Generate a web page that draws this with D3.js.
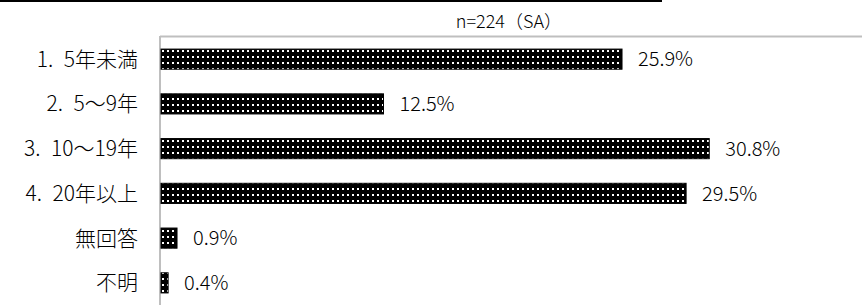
<!DOCTYPE html>
<html>
<head>
<meta charset="utf-8">
<script src="https://cdn.jsdelivr.net/npm/d3@7"></script>
<style>
  body { margin: 0; background: #fff; }
  text { font-family: "Noto Sans CJK JP", "Noto Sans", sans-serif; font-weight: 300; }
</style>
</head>
<body>
<svg id="chart" width="862" height="305"></svg>
<script>
// chart data
const categories = ['1.\u20025年未満', '2.\u20025〜9年', '3.\u200210〜19年', '4.\u200220年以上', '無回答', '不明'];
const values = [25.9, 12.5, 30.8, 29.5, 0.9, 0.4];
const noteLabel = 'n=224（SA）';

const svg = d3.select('#chart');
const width = 862, height = 305;
const axisX = 161;

// dotted fill like the original
const defs = svg.append('defs');
const pat = defs.append('pattern')
    .attr('id', 'dots')
    .attr('patternUnits', 'userSpaceOnUse')
    .attr('width', 5)
    .attr('height', 6);
pat.append('rect').attr('width', 5).attr('height', 6).attr('fill', '#000');
pat.append('rect').attr('x', 2).attr('y', 2).attr('width', 2).attr('height', 2).attr('fill', '#fff');

const x = d3.scaleLinear().domain([0, 1]).range([axisX, axisX + 1780]);
const y = d3.scaleBand().domain(categories).range([37, 305]).paddingInner(0.55).paddingOuter(0.27);

// top rule and frame lines
svg.append('line').attr('x1', 0).attr('x2', 662).attr('y1', 1).attr('y2', 1)
    .attr('stroke', '#000').attr('stroke-width', 2);
svg.append('line').attr('x1', axisX - 1).attr('x2', width).attr('y1', 36.5).attr('y2', 36.5)
    .attr('stroke', '#bfbfbf').attr('stroke-width', 2);
svg.append('line').attr('x1', axisX - 1).attr('x2', axisX - 1).attr('y1', 36).attr('y2', height)
    .attr('stroke', '#bfbfbf').attr('stroke-width', 2);

svg.append('text')
    .attr('x', 562).attr('y', 28)
    .attr('text-anchor', 'end')
    .attr('font-size', 18)
    .attr('fill', '#000')
    .text(noteLabel);

const rows = categories.map((c, i) => ({ cat: c, val: values[i] }));

svg.selectAll('rect.bar')
    .data(rows)
    .enter()
    .append('rect')
    .attr('class', 'bar')
    .attr('x', x(0))
    .attr('y', d => y(d.cat))
    .attr('width', d => x(d.val / 100) - x(0))
    .attr('height', y.bandwidth())
    .attr('fill', 'url(#dots)')
    .attr('stroke', '#000')
    .attr('stroke-width', 1);

svg.selectAll('text.val')
    .data(rows)
    .enter()
    .append('text')
    .attr('class', 'val')
    .attr('x', d => x(d.val / 100) + 16)
    .attr('y', d => y(d.cat) + y.bandwidth() / 2)
    .attr('dy', '0.36em')
    .attr('font-size', 20)
    .attr('fill', '#000')
    .text(d => d.val.toFixed(1) + '%');

svg.selectAll('text.cat')
    .data(rows)
    .enter()
    .append('text')
    .attr('class', 'cat')
    .attr('x', 138)
    .attr('y', d => y(d.cat) + y.bandwidth() / 2)
    .attr('dy', '0.36em')
    .attr('text-anchor', 'end')
    .attr('font-size', 21)
    .attr('fill', '#000')
    .text(d => d.cat);
</script>
</body>
</html>
